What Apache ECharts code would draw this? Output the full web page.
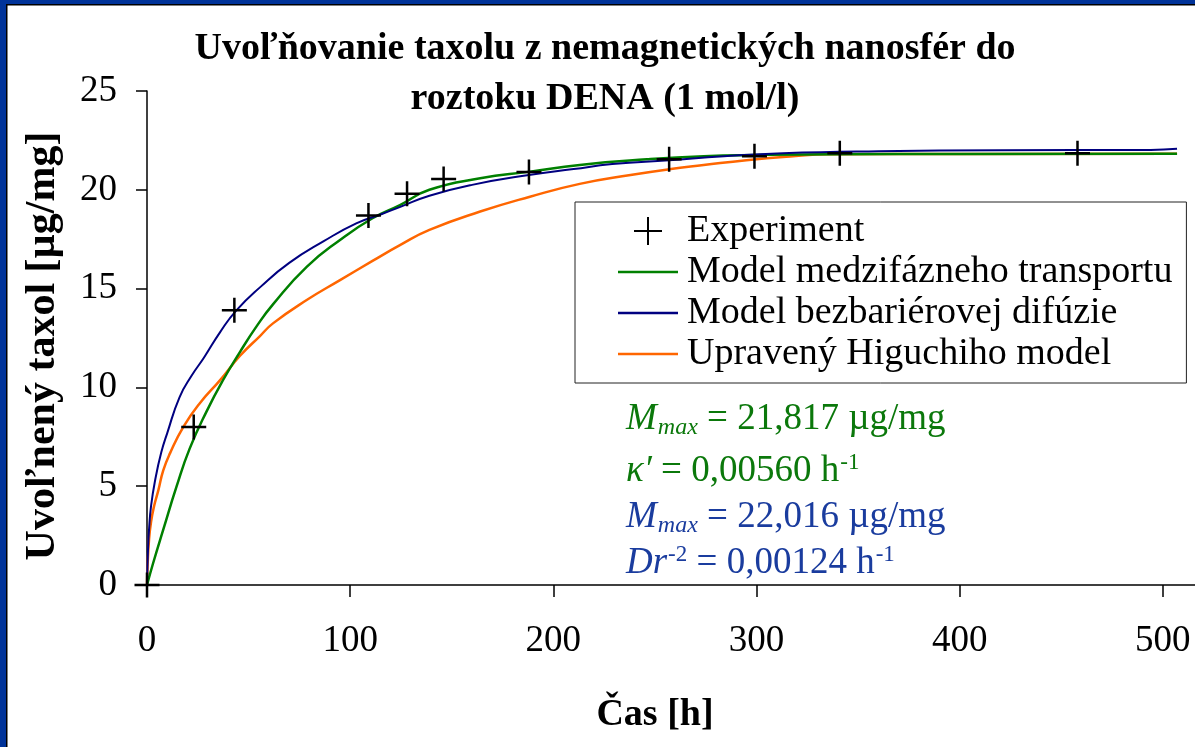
<!DOCTYPE html>
<html>
<head>
<meta charset="utf-8">
<script src="https://cdn.jsdelivr.net/npm/echarts@6/dist/echarts.min.js"></script>
<style>
  html, body { margin: 0; padding: 0; background: #fff; }
  #chart { width: 1195px; height: 747px; }
</style>
</head>
<body>
<div id="chart"></div>
<script>
// experiment (time h, released mg)
const expTime = [0, 23, 43, 109, 128, 146, 188, 257, 299, 341, 458];
const expValue = [0, 8.0, 13.9, 18.7, 19.8, 20.55, 20.9, 21.55, 21.7, 21.85, 21.85];

// model curves, [t, value]
const greenCurve = [
  [0, 0], [3, 1.1], [8, 2.8], [14.6, 5.0], [21, 6.9], [29.4, 8.8], [37.6, 10.4], [45.8, 11.8],
  [54, 13.1], [62, 14.2], [78.6, 16.1], [95, 17.46], [111, 18.56], [124.5, 19.23], [139, 20.0],
  [164, 20.58], [188.5, 20.92], [213, 21.26], [246, 21.54], [274, 21.7], [300, 21.76],
  [340, 21.8], [400, 21.81], [507, 21.82]
];
const blueCurve = [
  [0, 0], [0.5, 1.8], [1, 2.8], [2, 4.0], [4, 5.3], [7, 6.7], [10, 7.7], [16, 9.5], [22, 10.6],
  [28, 11.5], [36, 12.8], [44, 13.9], [56, 15.1], [70, 16.3], [87, 17.4], [103, 18.3],
  [115, 18.75], [125, 19.15], [139, 19.7], [160, 20.25], [188, 20.75], [210, 21.05],
  [229, 21.3], [257, 21.5], [284, 21.7], [313, 21.85], [360, 21.95], [420, 22.0],
  [494, 22.02], [507, 22.08]
];
const orangeCurve = [
  [0, 0], [0.3, 1.0], [1, 2.3], [2, 3.2], [3.5, 4.0], [5.6, 4.8], [8, 5.8], [11.3, 6.66],
  [17.9, 8.0], [26, 9.2], [36, 10.37], [45.8, 11.6], [55.6, 12.6], [62, 13.24], [78.6, 14.42],
  [95, 15.43], [111, 16.4], [124.5, 17.2], [139, 17.97], [164, 18.9], [188.5, 19.65],
  [213, 20.3], [238, 20.75], [257, 21.04], [274, 21.25], [295, 21.5], [318, 21.7],
  [335, 21.8], [400, 21.81], [507, 21.82]
];

const seriesNames = ['Experiment', 'Model medzifázneho transportu', 'Model bezbariérovej difúzie', 'Upravený Higuchiho model'];
const xTicks = [0, 100, 200, 300, 400, 500, 600];
const yTicks = [0, 5, 10, 15, 20, 25];

const serif = 'Liberation Serif';
const lineIcon = 'path://M0,0 L24,0 L24,1 L0,1 Z';
const chart = echarts.init(document.getElementById('chart'));

chart.setOption({
  animation: false,
  backgroundColor: '#fff',
  grid: { left: 147, top: 91, width: 1219, height: 494, containLabel: false, outerBoundsMode: 'none' },
  xAxis: {
    type: 'value', min: xTicks[0], max: xTicks[xTicks.length - 1], interval: 100,
    axisLine: { lineStyle: { color: '#000', width: 1.5 } },
    axisTick: { length: 12, lineStyle: { color: '#000', width: 1.5 } },
    axisLabel: { color: '#000', fontFamily: serif, fontSize: 37, margin: 38 },
    splitLine: { show: false }
  },
  yAxis: {
    type: 'value', min: yTicks[0], max: yTicks[yTicks.length - 1], interval: 5,
    axisLine: { show: true, lineStyle: { color: '#000', width: 1.5 } },
    axisTick: { show: true, length: 11, lineStyle: { color: '#000', width: 1.5 } },
    axisLabel: { color: '#000', fontFamily: serif, fontSize: 37, margin: 30 },
    splitLine: { show: false }
  },
  legend: {
    orient: 'vertical', left: 575, top: 202,
    padding: [10, 14, 10, 43], itemGap: 3, itemWidth: 60, itemHeight: 28,
    borderColor: '#222', borderWidth: 1, backgroundColor: '#fff',
    textStyle: { fontFamily: serif, fontSize: 38, color: '#000', padding: [0, 0, 0, 4] },
    data: [
      { name: seriesNames[0] },
      { name: seriesNames[1], icon: lineIcon },
      { name: seriesNames[2], icon: lineIcon },
      { name: seriesNames[3], icon: lineIcon }
    ]
  },
  series: [
    {
      name: seriesNames[1], type: 'line', data: greenCurve, showSymbol: false, symbol: 'none',
      smooth: 0.5, z: 3,
      lineStyle: { color: '#008000', width: 2.5 }, itemStyle: { color: '#008000' }
    },
    {
      name: seriesNames[2], type: 'line', data: blueCurve, showSymbol: false, symbol: 'none',
      smooth: 0.5, z: 4,
      lineStyle: { color: '#000080', width: 2 }, itemStyle: { color: '#000080' }
    },
    {
      name: seriesNames[3], type: 'line', data: orangeCurve, showSymbol: false, symbol: 'none',
      smooth: 0.5, z: 2,
      lineStyle: { color: '#FF6600', width: 2.5 }, itemStyle: { color: '#FF6600' }
    },
    {
      name: seriesNames[0], type: 'scatter', z: 10,
      data: expTime.map((t, i) => [t, expValue[i]]),
      symbol: 'path://M10,0 L10,20 M0,10 L20,10', symbolSize: 25, symbolKeepAspect: true,
      itemStyle: { color: 'transparent', borderColor: '#000', borderWidth: 2.5, opacity: 1 }
    }
  ],
  graphic: [
    // slide frame
    { type: 'rect', shape: { x: 0, y: 0, width: 6, height: 747 }, style: { fill: '#003399' }, silent: true },
    { type: 'rect', shape: { x: 0, y: 0, width: 1195, height: 4 }, style: { fill: '#003399' }, silent: true },
    { type: 'rect', shape: { x: 6, y: 4, width: 1.5, height: 743 }, style: { fill: '#000' }, silent: true },
    { type: 'rect', shape: { x: 6, y: 4, width: 1189, height: 1.5 }, style: { fill: '#000' }, silent: true },
    {
      type: 'text', x: 605, y: 24,
      style: {
        text: 'Uvoľňovanie taxolu z nemagnetických nanosfér do\nroztoku DENA (1 mol/l)',
        font: 'bold 38px "Liberation Serif"', fill: '#000', align: 'center', verticalAlign: 'top',
        lineHeight: 50
      }
    },
    {
      type: 'text', x: 43, y: 346, rotation: Math.PI / 2,
      style: {
        text: 'Uvoľnený taxol [µg/mg]', font: 'bold 42px "Liberation Serif"', fill: '#000',
        align: 'center', verticalAlign: 'middle'
      }
    },
    {
      type: 'text', x: 655, y: 715,
      style: {
        text: 'Čas [h]', font: 'bold 38px "Liberation Serif"', fill: '#000',
        align: 'center', verticalAlign: 'middle'
      }
    },
    {
      type: 'text', x: 626, y: 393,
      style: {
        text: '{i|M}{sub|max}{n| = 21,817 µg/mg}\n{i|κ′}{n| = 0,00560 h}{sup|-1}',
        fill: '#0B780B', align: 'left', verticalAlign: 'top',
        rich: {
          i: { fontFamily: serif, fontSize: 37, fontStyle: 'italic', lineHeight: 52 },
          n: { fontFamily: serif, fontSize: 37, lineHeight: 52 },
          sub: { fontFamily: serif, fontSize: 24, fontStyle: 'italic', padding: [18, 0, 0, 1] },
          sup: { fontFamily: serif, fontSize: 23, padding: [0, 0, 16, 1] }
        }
      }
    },
    {
      type: 'text', x: 626, y: 494,
      style: {
        text: '{i|M}{sub|max}{n| = 22,016 µg/mg}\n{i|Dr}{sup|-2}{n| = 0,00124 h}{sup|-1}',
        fill: '#1A3C9E', align: 'left', verticalAlign: 'top',
        rich: {
          i: { fontFamily: serif, fontSize: 37, fontStyle: 'italic', lineHeight: 46 },
          n: { fontFamily: serif, fontSize: 37, lineHeight: 46 },
          sub: { fontFamily: serif, fontSize: 24, fontStyle: 'italic', padding: [18, 0, 0, 1] },
          sup: { fontFamily: serif, fontSize: 23, padding: [0, 0, 16, 1] }
        }
      }
    }
  ]
});
</script>
</body>
</html>
